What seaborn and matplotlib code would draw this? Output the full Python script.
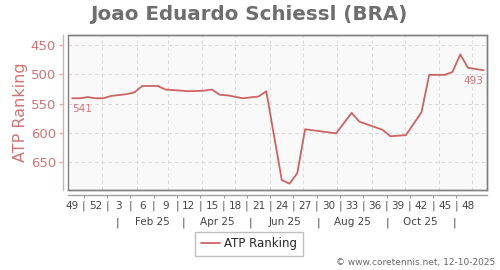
import matplotlib
matplotlib.use("Agg")
import matplotlib.pyplot as plt
import matplotlib.dates as mdates
from matplotlib.patches import Rectangle
import seaborn as sns
import pandas as pd
import datetime as dt

# ---------------- data ----------------
TITLE = "Joao Eduardo Schiessl (BRA)"
SERIES = "ATP Ranking"
FOOTER = "\u00a9 www.coretennis.net, 12-10-2025"

DATES = ["2024-12-05", "2024-12-12", "2024-12-19", "2024-12-26", "2025-01-02",
         "2025-01-09", "2025-01-23", "2025-01-30", "2025-02-06", "2025-02-20",
         "2025-02-27", "2025-03-20", "2025-04-03", "2025-04-10", "2025-04-17",
         "2025-04-24", "2025-05-08", "2025-05-22", "2025-05-29", "2025-06-12",
         "2025-06-19", "2025-06-26", "2025-07-03", "2025-07-31", "2025-08-14",
         "2025-08-21", "2025-09-11", "2025-09-18", "2025-10-02", "2025-10-16",
         "2025-10-23", "2025-11-06", "2025-11-13", "2025-11-20", "2025-11-27",
         "2025-12-11"]
RANKS = [541, 541, 539, 541, 541,
         537, 534, 531, 520, 520,
         526, 529, 528, 526, 535,
         536, 541, 538, 529, 681,
         687, 669, 594, 601, 566,
         581, 595, 606, 604, 565,
         501, 501, 496, 466, 489,
         493]

WEEK_LABELS = ["49", "52", "3", "6", "9", "12", "15", "18", "21", "24",
               "27", "30", "33", "36", "39", "42", "45", "48"]
MONTH_LABELS = ["Feb 25", "Apr 25", "Jun 25", "Aug 25", "Oct 25"]
Y_TICKS = [450, 500, 550, 600, 650]

# ---------------- style ----------------
LINE = "#cc6464"
PINK_TXT = "#d27474"
PINK_SPINE = "#e2a9a9"
FRAME = "#808080"
GRID = "#d9d9d9"

sns.set_style("white")
plt.rcParams["font.family"] = ["DejaVu Sans"]

df = pd.DataFrame({"date": pd.to_datetime(DATES), "rank": RANKS})

fig = plt.figure(figsize=(5.0, 2.7), dpi=100)
ax = fig.add_axes([0.136, 0.296, 0.838, 0.574])
ax.set_facecolor("#f9f9f9")

sns.lineplot(data=df, x="date", y="rank", ax=ax, color=LINE, linewidth=1.3,
             label=SERIES, legend=False)

ax.set_xlim(dt.datetime(2024, 12, 1, 3), dt.datetime(2025, 12, 14, 3))
ax.set_ylim(698, 433)

# y axis
ax.set_yticks(Y_TICKS)
ax.tick_params(axis="y", colors=PINK_SPINE, labelcolor=PINK_TXT, labelsize=9.5,
               length=3, width=1, pad=2, left=True)
ax.set_ylabel(SERIES, color=PINK_TXT, fontsize=11.5, labelpad=2)
ax.spines["left"].set_position(("outward", 3.6))
ax.spines["left"].set_color(PINK_SPINE)
ax.spines["left"].set_linewidth(1)
for s in ["top", "right", "bottom"]:
    ax.spines[s].set_color(FRAME)
    ax.spines[s].set_linewidth(1)
ax.add_patch(Rectangle((0, 0), 1, 1, transform=ax.transAxes, fill=False,
                       edgecolor=FRAME, lw=1, clip_on=False, zorder=5))

# x grid at month starts
month_starts = [mdates.date2num(dt.datetime(2025, m, 1)) for m in range(1, 13)]
ax.set_xticks(month_starts)
ax.tick_params(axis="x", length=0, labelbottom=False)
ax.grid(True, which="major", axis="both", color=GRID, linestyle=(0, (3, 3)),
        linewidth=0.8)
ax.set_xlabel("")

# week axis (offset line)
start = mdates.date2num(pd.to_datetime(DATES[0]))
week_pos = [start + 21 * i for i in range(len(WEEK_LABELS))]
sep_pos = [p + 10.5 for p in week_pos[:-1]]
sec = ax.secondary_xaxis(-0.032)
sec.spines["bottom"].set_color("#a0a0a0")
sec.spines["bottom"].set_linewidth(1)
sec.set_xticks(week_pos)
sec.set_xticklabels(WEEK_LABELS)
sec.set_xticks(sep_pos, minor=True)
sec.set_xticklabels(["|"] * len(sep_pos), minor=True)
sec.tick_params(axis="x", which="major", length=0, pad=4, labelsize=7.5,
                labelcolor="#444444")
sec.tick_params(axis="x", which="minor", length=2, width=0.8, color="#999999",
                pad=2, labelsize=7.5, labelcolor="#555555")

# month row
mon_pos = [mdates.date2num(dt.datetime(2025, m, 15)) for m in (2, 4, 6, 8, 10)]
mon_sep = [mdates.date2num(dt.datetime(2025, m, 15)) for m in (1, 3, 5, 7, 9, 11)]
sec2 = ax.secondary_xaxis(-0.175)
sec2.spines["bottom"].set_visible(False)
sec2.set_xticks(mon_pos)
sec2.set_xticklabels(MONTH_LABELS)
sec2.set_xticks(mon_sep, minor=True)
sec2.set_xticklabels(["|"] * len(mon_sep), minor=True)
sec2.tick_params(axis="x", which="both", length=0, pad=0, labelsize=7.5,
                 labelcolor="#444444")

# end labels
ax.annotate(str(RANKS[0]), (df["date"].iloc[0], RANKS[0]), xytext=(0, -4),
            textcoords="offset points", ha="left", va="top", color=PINK_TXT,
            fontsize=7.5)
ax.annotate(str(RANKS[-1]), (df["date"].iloc[-1], RANKS[-1]), xytext=(0, -4),
            textcoords="offset points", ha="right", va="top", color=PINK_TXT,
            fontsize=7.5)

# title, legend, footer
fig.text(0.498, 0.948, TITLE, ha="center", va="center", fontsize=14.3,
         fontweight="bold", color="#6e6e6e")
handles, labels = ax.get_legend_handles_labels()
fig.legend(handles, labels, loc="center", bbox_to_anchor=(0.498, 1 - 244 / 270),
           frameon=True, fancybox=False, edgecolor="#b0b0b0", fontsize=8.5,
           handlelength=1.6, handletextpad=0.4, borderpad=0.5)
fig.text(0.99, 1 - 263 / 270, FOOTER, ha="right", va="center", fontsize=6.5,
         color="#666666")

fig.savefig("out.png", dpi=100)
